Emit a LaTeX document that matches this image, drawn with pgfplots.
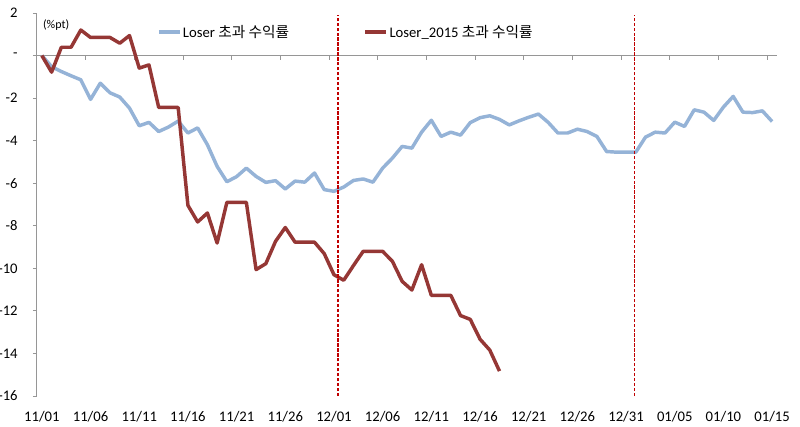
\documentclass[border=0pt]{standalone}
\usepackage{pgfplots}
\pgfplotsset{compat=1.18}
\usepackage{fontspec}
\setmainfont{Carlito}
\newfontfamily\kr{Noto Sans CJK KR}
\definecolor{lblue}{RGB}{149,179,215}
\definecolor{dred}{RGB}{149,55,53}
\definecolor{vred}{RGB}{192,0,0}
\definecolor{axgray}{RGB}{150,150,150}

\begin{document}
\begin{tikzpicture}
\begin{axis}[
  at={(0,0)}, anchor=south west,
  scale only axis, width=555pt, height=287.25pt,
  xmin=-0.5, xmax=75.5, ymin=-16, ymax=2,
  axis lines*=left,
  x axis line style={draw=none},
  y axis line style={axgray, line width=0.75pt},
  xtick={0,5,...,75},
  xticklabels={11/01,11/06,11/11,11/16,11/21,11/26,12/01,12/06,12/11,12/16,12/21,12/26,12/31,01/05,01/10,01/15},
  x tick style={draw=none},
  ytick={-16,-14,...,2},
  yticklabels={-16,-14,-12,-10,-8,-6,-4,-2,-,2},
  y tick style={axgray, line width=0.75pt},
  tick align=outside, major tick length=3pt,
  tick label style={font=\fontsize{11}{13}\selectfont, text=black},
  yticklabel style={xshift=-8pt},
  xticklabel style={yshift=-5pt},
  legend columns=2,
  legend style={at={(0.162,0.95)}, anchor=west, draw=none, fill=none,
    inner sep=0pt, font=\fontsize{11}{13}\selectfont,
    nodes={inner xsep=1pt, inner ysep=1pt},
    /tikz/every even column/.append style={column sep=55pt}},
  legend image code/.code={\draw[#1] (0pt,0pt) -- (15.75pt,0pt);},
  clip=false,
]
\draw[axgray, line width=0.75pt] (axis cs:-0.5,0) -- (axis cs:75.5,0);
\pgfplotsinvokeforeach{-0.5,4.5,9.5,14.5,19.5,24.5,29.5,34.5,39.5,44.5,49.5,54.5,59.5,64.5,69.5,74.5}{
  \draw[axgray, line width=0.75pt] (axis cs:#1,0) -- ([yshift=-3pt]axis cs:#1,0);
}
\node[anchor=west, font=\fontsize{9}{10}\selectfont, inner sep=0pt] at (axis cs:0.1,1.44) {(\%pt)};

\addplot[lblue, line width=2.6pt, line join=round] coordinates {
(0,0) (1,-0.52) (2,-0.75) (3,-0.95) (4,-1.14) (5,-2.06) (6,-1.3) (7,-1.75) (8,-1.95) (9,-2.47)
(10,-3.3) (11,-3.14) (12,-3.57) (13,-3.36) (14,-3.08) (15,-3.64) (16,-3.4) (17,-4.19) (18,-5.21) (19,-5.93)
(20,-5.69) (21,-5.29) (22,-5.68) (23,-5.96) (24,-5.88) (25,-6.27) (26,-5.9) (27,-5.95) (28,-5.52) (29,-6.3)
(30,-6.38) (31,-6.18) (32,-5.87) (33,-5.8) (34,-5.95) (35,-5.29) (36,-4.82) (37,-4.27) (38,-4.35) (39,-3.6)
(40,-3.04) (41,-3.8) (42,-3.6) (43,-3.74) (44,-3.15) (45,-2.92) (46,-2.83) (47,-3.0) (48,-3.26) (49,-3.07)
(50,-2.9) (51,-2.75) (52,-3.14) (53,-3.64) (54,-3.64) (55,-3.46) (56,-3.57) (57,-3.8) (58,-4.51) (59,-4.54)
(60,-4.54) (61,-4.54) (62,-3.83) (63,-3.6) (64,-3.64) (65,-3.13) (66,-3.33) (67,-2.55) (68,-2.66) (69,-3.05)
(70,-2.42) (71,-1.92) (72,-2.66) (73,-2.68) (74,-2.6) (75,-3.1)
};
\addlegendentry{Loser {\kr 초과 수익률}}

\addplot[dred, line width=2.6pt, line join=round] coordinates {
(0,0) (1,-0.78) (2,0.39) (3,0.39) (4,1.2) (5,0.85) (6,0.85) (7,0.85) (8,0.58) (9,0.94)
(10,-0.59) (11,-0.44) (12,-2.44) (13,-2.44) (14,-2.44) (15,-7.04) (16,-7.82) (17,-7.4) (18,-8.81) (19,-6.9)
(20,-6.9) (21,-6.9) (22,-10.06) (23,-9.78) (24,-8.73) (25,-8.08) (26,-8.77) (27,-8.77) (28,-8.77) (29,-9.31)
(30,-10.3) (31,-10.56) (32,-9.87) (33,-9.2) (34,-9.2) (35,-9.2) (36,-9.67) (37,-10.61) (38,-11.02) (39,-9.83)
(40,-11.27) (41,-11.27) (42,-11.27) (43,-12.22) (44,-12.4) (45,-13.33) (46,-13.84) (47,-14.83)
};
\addlegendentry{Loser\_2015 {\kr 초과 수익률}}

\addplot[vred, line width=1.2pt, dash pattern=on 2.5pt off 1.2pt, forget plot] coordinates {(30.4,-16) (30.4,1.9)};
\addplot[vred, line width=1.2pt, dash pattern=on 2.5pt off 1.2pt, forget plot] coordinates {(60.85,-16) (60.85,1.9)};
\end{axis}
\pgfresetboundingbox
\useasboundingbox (-27.75pt,-22.5pt) rectangle (572.25pt,297pt);
\end{tikzpicture}
\end{document}
